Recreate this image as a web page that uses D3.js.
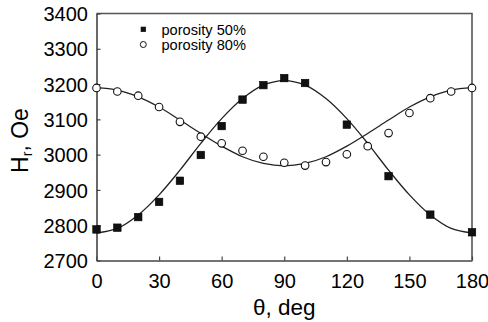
<!DOCTYPE html>
<html>
<head>
<meta charset="utf-8">
<script src="https://cdn.jsdelivr.net/npm/d3@7"></script>
<style>
  html, body { margin: 0; padding: 0; background: #fff; }
  svg { display: block; }
  text { font-family: "Liberation Sans", Arial, Helvetica, sans-serif; fill: #000; }
</style>
</head>
<body>
<svg id="chart" width="488" height="322"></svg>
<script>
// ---- data ----
const angles50 = [0, 10, 20, 30, 40, 50, 60, 70, 80, 90, 100, 120, 140, 160, 180];
const values50 = [2788, 2793, 2823, 2866, 2926, 2999, 3081, 3156, 3197, 3217, 3203, 3085, 2939, 2830, 2780];

const angles80 = [0, 10, 20, 30, 40, 50, 60, 70, 80, 90, 100, 110, 120, 130, 140, 150, 160, 170, 180];
const values80 = [3189, 3179, 3167, 3135, 3093, 3051, 3032, 3011, 2994, 2977, 2969, 2979, 3001, 3024, 3061, 3118, 3160, 3179, 3189];

// fitted curves
const fitAngles = [0, 10, 20, 30, 40, 50, 60, 70, 80, 90, 100, 110, 120, 130, 140, 150, 160, 170, 180];
const fit50 = [2778, 2791, 2829, 2886, 2956, 3032, 3102, 3159, 3197, 3210, 3197, 3159, 3102, 3032, 2956, 2886, 2829, 2791, 2778];
const fit80 = [3190, 3183, 3164, 3135, 3098, 3060, 3024, 2994, 2975, 2968, 2975, 2994, 3024, 3060, 3098, 3135, 3164, 3183, 3190];

const xTicks = [0, 30, 60, 90, 120, 150, 180];
const yTicks = [2700, 2800, 2900, 3000, 3100, 3200, 3300, 3400];
const legendLabels = ["porosity 50%", "porosity 80%"];

// ---- layout ----
const svg = d3.select("#chart");
const L = 96.5, R = 472, T = 13.5, B = 260.5;

const x = d3.scaleLinear().domain([0, 180]).range([L, R]);
const y = d3.scaleLinear().domain([2700, 3400]).range([B, T]);

const axisColor = "#444";
const font = '"Liberation Sans", Arial, Helvetica, sans-serif';

// frame (top + right)
svg.append("path")
  .attr("d", `M${L},${T}H${R}V${B}`)
  .attr("fill", "none").attr("stroke", "#555").attr("stroke-width", 1.6);

// axes
const xAxis = d3.axisBottom(x).tickValues(xTicks).tickSizeInner(-4).tickSizeOuter(0).tickPadding(10);
const gx = svg.append("g").attr("transform", `translate(0,${B})`).call(xAxis);
gx.select(".domain").attr("stroke", axisColor).attr("stroke-width", 1.6);
gx.selectAll(".tick line").attr("stroke", axisColor).attr("stroke-width", 1.2);
gx.selectAll(".tick text").attr("font-size", 20).attr("font-family", font).attr("fill", "#000")
  .attr("dy", "0.71em").attr("y", 13);

const yAxis = d3.axisLeft(y).tickValues(yTicks).tickSizeInner(-4).tickSizeOuter(0).tickPadding(8).tickFormat(d3.format("d"));
const gy = svg.append("g").attr("transform", `translate(${L},0)`).call(yAxis);
gy.select(".domain").attr("stroke", axisColor).attr("stroke-width", 1.6);
gy.selectAll(".tick line").attr("stroke", axisColor).attr("stroke-width", 1.2);
gy.selectAll(".tick text").attr("font-size", 20).attr("font-family", font).attr("fill", "#000")
  .attr("x", -8.5).attr("dy", "0.36em");

// axis titles
svg.append("text")
  .attr("x", (L + R) / 2).attr("y", 315)
  .attr("text-anchor", "middle").attr("font-size", 22.5)
  .text("θ, deg");

const yt = svg.append("text")
  .attr("transform", "translate(27.5,140.5) rotate(-90)")
  .attr("text-anchor", "middle").attr("font-size", 23);
yt.append("tspan").text("H");
yt.append("tspan").attr("font-size", 14).attr("dy", 4).text("r");
yt.append("tspan").attr("dy", -4).text(", Oe");

// fitted curves
const line = d3.line().x(d => x(d[0])).y(d => y(d[1])).curve(d3.curveCatmullRom.alpha(0.5));
[fit50, fit80].forEach(f => {
  svg.append("path")
    .datum(fitAngles.map((a, i) => [a, f[i]]))
    .attr("d", line)
    .attr("fill", "none").attr("stroke", "#222").attr("stroke-width", 1.3);
});

// data markers
const sq = 7.5;
svg.append("g").selectAll("rect")
  .data(angles50.map((a, i) => [a, values50[i]]))
  .join("rect")
  .attr("x", d => x(d[0]) - sq / 2).attr("y", d => y(d[1]) - sq / 2)
  .attr("width", sq).attr("height", sq)
  .attr("fill", "#111").attr("stroke", "#000").attr("stroke-width", 0.6);

svg.append("g").selectAll("circle")
  .data(angles80.map((a, i) => [a, values80[i]]))
  .join("circle")
  .attr("cx", d => x(d[0])).attr("cy", d => y(d[1])).attr("r", 3.8)
  .attr("fill", "#fff").attr("stroke", "#111").attr("stroke-width", 1.1);

// legend
const lg = svg.append("g");
lg.append("rect").attr("x", 143.3 - 2.6).attr("y", 29.3 - 2.6).attr("width", 5.2).attr("height", 5.2).attr("fill", "#111");
lg.append("circle").attr("cx", 143.3).attr("cy", 44.5).attr("r", 3).attr("fill", "#fff").attr("stroke", "#111").attr("stroke-width", 1);
legendLabels.forEach((t, i) => {
  lg.append("text").attr("x", 161.5).attr("y", 29.3 + i * 15.2).attr("dy", "0.36em")
    .attr("font-size", 14.6).text(t);
});
</script>
</body>
</html>
